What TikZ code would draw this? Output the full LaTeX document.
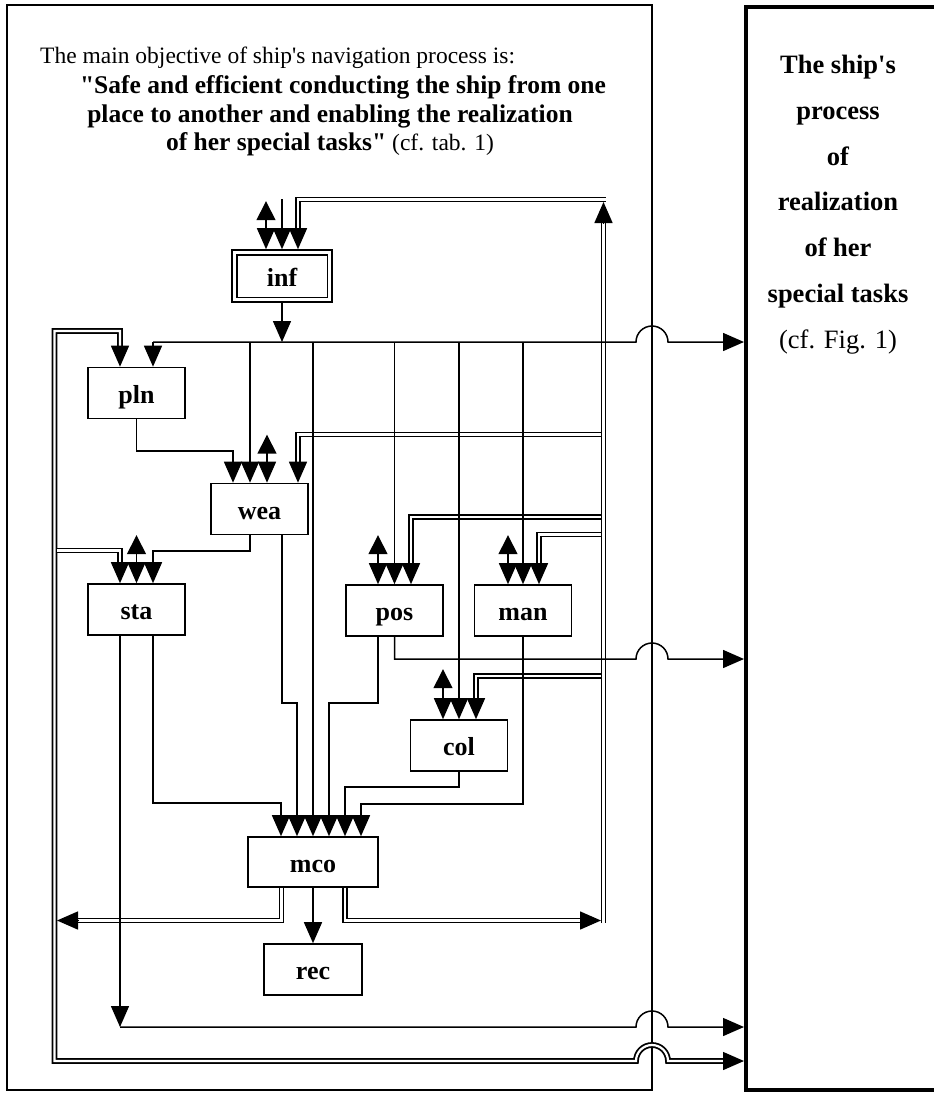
\documentclass[tikz,border=0pt]{standalone}
\usepackage{fontspec}
\setmainfont{Liberation Serif}
\newfontfamily\tnr{Liberation Serif}
\usetikzlibrary{arrows.meta,calc}
\begin{document}
\begin{tikzpicture}[x=1pt,y=-1pt,
  box/.style={draw,line width=1.6pt,minimum width=97pt,minimum height=51pt,inner sep=0pt,text height=20pt,text depth=0pt,font=\tnr\fontsize{26}{30}\selectfont\bfseries},
  ln/.style={line width=1.5pt},
  dbl/.style={double,line width=1.8pt,double distance=2.2pt},
  arr/.style={-{Triangle[length=21pt,width=18pt]}},
  biarr/.style={{Triangle[length=21pt,width=18pt]}-{Triangle[length=19pt,width=19pt]}},
  ttl/.style={inner sep=0pt,font=\tnr\fontsize{23.5}{29}\selectfont},
  ttb/.style={inner sep=0pt,font=\tnr\fontsize{25.5}{29}\selectfont\bfseries},
  rtx/.style={inner sep=0pt,anchor=base,font=\tnr\fontsize{26.5}{30}\selectfont\bfseries},
]
\useasboundingbox (0,0) rectangle (934,1093);
\clip (0,0) rectangle (934,1093);
\fill[white] (0,0) rectangle (934,1093);

% frames
\node[draw,line width=1.6pt,minimum width=645pt,minimum height=1085pt,inner sep=0pt] (lf) at (329.5,547.5) {};
\node[draw,line width=3.5pt,minimum width=200pt,minimum height=1083pt,inner sep=0pt] (rf) at (846,548.5) {};

% title
\node[ttl,anchor=base west] (t1) at (40,63) {The main objective of ship's navigation process is:};
\node[ttb,anchor=base] (t2) at (343,93) {"Safe and efficient conducting the ship from one};
\node[ttb,anchor=base] (t3) at (330,122) {place to another and enabling the realization};
\node[ttl,anchor=base] (t4) at (330,150) {{\fontsize{25.5}{29}\selectfont\bfseries of her special tasks"} (cf. tab. 1)};

% right frame text
\node[rtx] (r1) at (838,73) {The ship's};
\node[rtx] (r2) at (838,119) {process};
\node[rtx] (r3) at (838,165) {of};
\node[rtx] (r4) at (838,210) {realization};
\node[rtx] (r5) at (838,256) {of her};
\node[rtx] (r6) at (838,302) {special tasks};
\node[rtx,font=\tnr\fontsize{26.5}{30}\selectfont] (r7) at (838,348) {(cf. Fig. 1)};

% boxes
\node[box,minimum width=100pt,minimum height=52pt] (inf) at (282,276) {inf};
\draw[line width=1.6pt] ($(inf.south west)+(5.5,-5.5)$) rectangle ($(inf.north east)+(-5.5,5.5)$);
\node[box] (pln) at (136.5,393) {pln};
\node[box] (wea) at (259.5,509) {wea};
\node[box] (sta) at (136.5,609.5) {sta};
\node[box] (pos) at (394.5,610.5) {pos};
\node[box] (man) at (523,610.5) {man};
\node[box] (col) at (459,745.5) {col};
\node[box,minimum width=130pt,minimum height=50pt] (mco) at (313,862) {mco};
\node[box,minimum width=98pt] (rec) at (313,969.5) {rec};

% ---- double lines ----
% right loop: mco -> right -> up -> inf
\draw[dbl] ([xshift=32pt]mco.south) |- (580,920.5);
\draw[ln,arr] (580,920.5) -- (601,920.5);
\draw[dbl] (603.5,923) -- (603.5,222);
\draw[ln,arr] (603.5,223) -- (603.5,202);
\draw[dbl] (605.5,199.5) -| (298,228);
\draw[ln,arr] (298,228) -- ([xshift=16pt]inf.north);
% branches
\draw[dbl] (601.2,434.5) -| (298,463);
\draw[ln,arr] (298,463) -- ([xshift=38.5pt]wea.north);
\draw[dbl] (601.2,517) -| (411,564);
\draw[ln,arr] (411,564) -- ([xshift=16.5pt]pos.north);
\draw[dbl] (601.2,534.5) -| (539,564);
\draw[ln,arr] (539,564) -- ([xshift=16pt]man.north);
\draw[dbl] (601.2,676) -| (476,699);
\draw[ln,arr] (476,699) -- ([xshift=17pt]col.north);
% left loop
\draw[dbl] ([xshift=-31.5pt]mco.south) |- (78,920.5);
\draw[ln,arr] (78,920.5) -- (57,920.5);
\draw[dbl] (120,346) -- (120,331) -- (54.5,331) -- (54.5,1061) -- (636,1061)
  .. controls (636,1052.16) and (643.16,1045) .. (652,1045)
  .. controls (660.84,1045) and (668,1052.16) .. (668,1061) -- (723,1061);
\draw[ln,arr] (723,1061) -- (744,1061);
\draw[ln,arr] (120,346) -- ([xshift=-16.5pt]pln.north);
\draw[dbl] (56.8,550.5) -| (120,563);
\draw[ln,arr] (120,563) -- ([xshift=-16.5pt]sta.north);

% ---- single lines ----
% bus
\draw[ln,arr] (inf.south) -- (282,342);
\draw[ln,arr] (153,342) -- (636,342)
  .. controls (636,333.16) and (643.16,326) .. (652,326)
  .. controls (660.84,326) and (668,333.16) .. (668,342) -- (744,342);
\draw[ln,arr] (153,342) -- ([xshift=16.5pt]pln.north);
\draw[ln,arr] (250,342) -- ([xshift=-9.5pt]wea.north);
\draw[ln,arr] (313,342) -- (mco.north);
\draw[ln,arr] (394.5,342) -- (pos.north);
\draw[ln,arr] (459,342) -- (col.north);
\draw[ln,arr] (523,342) -- (man.north);
% inf inputs
\draw[ln,arr] (282,199) -- (inf.north);
\draw[ln,biarr] ([xshift=-16pt]inf.north) -- +(0,-48);
% pln -> wea
\draw[ln,arr] (pln.south) |- (233,451) -- ([xshift=-26.5pt]wea.north);
\draw[ln,biarr] ([xshift=7.5pt]wea.north) -- +(0,-48);
% wea outputs
\draw[ln,arr] ([xshift=-9.5pt]wea.south) |- (153,551) -- ([xshift=16.5pt]sta.north);
\draw[ln,arr] ([xshift=22.5pt]wea.south) |- (297,703) -- ([xshift=-16pt]mco.north);
% sta
\draw[ln,biarr] (sta.north) -- +(0,-48);
\draw[ln,arr] ([xshift=-16.5pt]sta.south) -- (120,1027);
\draw[ln,arr] (120,1027) -- (636,1027)
  .. controls (636,1018.16) and (643.16,1011) .. (652,1011)
  .. controls (660.84,1011) and (668,1018.16) .. (668,1027) -- (744,1027);
\draw[ln,arr] ([xshift=16.5pt]sta.south) |- (281,803) -- ([xshift=-32pt]mco.north);
% pos
\draw[ln,biarr] ([xshift=-16.5pt]pos.north) -- +(0,-49);
\draw[ln,arr] ([xshift=-16.5pt]pos.south) |- (329,703) -- ([xshift=16pt]mco.north);
\draw[ln,arr] (pos.south) |- (636,659)
  .. controls (636,650.16) and (643.16,643) .. (652,643)
  .. controls (660.84,643) and (668,650.16) .. (668,659) -- (744,659);
% man
\draw[ln,biarr] ([xshift=-15pt]man.north) -- +(0,-49);
\draw[ln,arr] (man.south) |- (361,804) -- ([xshift=48pt]mco.north);
% col
\draw[ln,biarr] ([xshift=-16pt]col.north) -- +(0,-50);
\draw[ln,arr] (col.south) |- (345,787) -- ([xshift=32pt]mco.north);
% mco -> rec
\draw[ln,arr] (mco.south) -- (rec.north);
\end{tikzpicture}
\end{document}
